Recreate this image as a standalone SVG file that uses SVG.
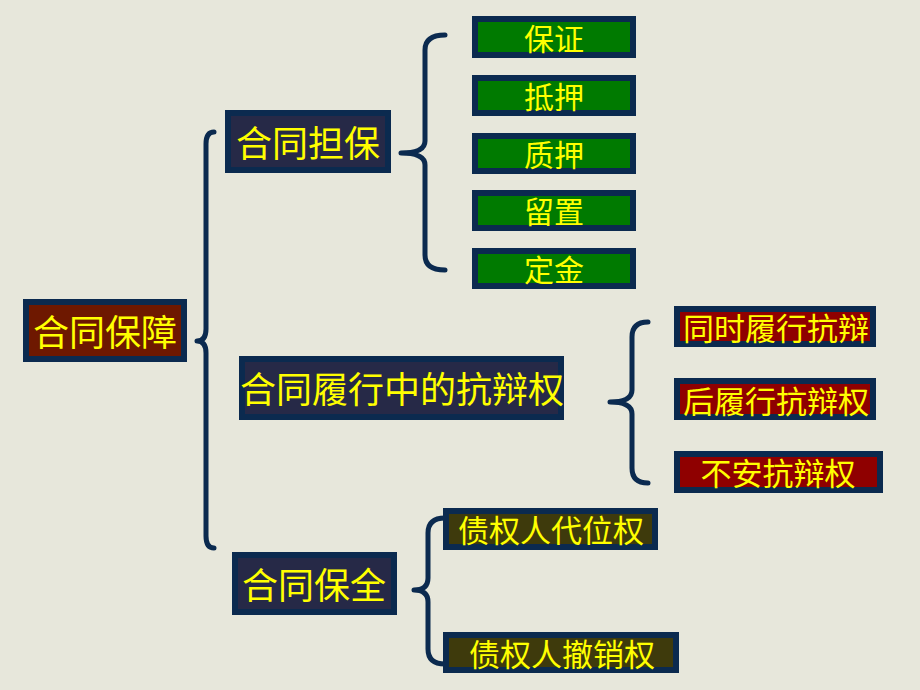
<svg xmlns="http://www.w3.org/2000/svg" width="920" height="690" viewBox="0 0 920 690">
<defs>
<style>
.bx{stroke:#0b2a4f;stroke-width:6}
.root{fill:#6e1800}
.sub{fill:#262947}
.grn{fill:#007a00}
.red{fill:#8f0000}
.olv{fill:#3e3a0c}
.t{fill:#ffff00;font-family:"Noto Sans CJK SC","Noto Sans CJK TC",sans-serif;text-anchor:middle;dominant-baseline:central}
.brace{fill:none;stroke:#0b2a4f;stroke-width:5;stroke-linecap:round;stroke-linejoin:round}
</style>
</defs>
<rect width="920" height="690" fill="#e7e7db"/>
<g id="connectors">
<path class="brace" d="M214,132 Q206,132 206,144 L206,329 Q206,341 197,341 Q206,341 206,353 L206,536 Q206,548 214,548"/>
<path class="brace" d="M445,35 Q425,35 425,50 L425,141 Q425,153 401,153 Q425,153 425,165 L425,255 Q425,270 445,270"/>
<path class="brace" d="M648,322 Q632,322 632,337 L632,390 Q632,402 610,402 Q632,402 632,414 L632,468 Q632,483 648,483"/>
<path class="brace" d="M445,518 Q428,518 428,533 L428,578 Q428,590 414,590 Q428,590 428,602 L428,649 Q428,664 445,664"/>
</g>
<g id="root"><rect class="bx root" x="26" y="302" width="158" height="57"/><text class="t" x="105" y="330" font-size="36">合同保障</text></g>
<g id="danbao"><rect class="bx sub" x="228" y="113" width="160" height="57"/><text class="t" x="308" y="141" font-size="36">合同担保</text></g>
<g id="kangbian"><rect class="bx sub" x="242" y="359" width="319" height="58"/><text class="t" x="402" y="387" font-size="36">合同履行中的抗辩权</text></g>
<g id="baoquan"><rect class="bx sub" x="235" y="555" width="159" height="57"/><text class="t" x="314" y="583" font-size="36">合同保全</text></g>
<g id="baozheng"><rect class="bx grn" x="475" y="19" width="158" height="36"/><text class="t" x="554" y="37" font-size="30">保证</text></g>
<g id="diya"><rect class="bx grn" x="475" y="78" width="158" height="35"/><text class="t" x="554" y="95" font-size="30">抵押</text></g>
<g id="zhiya"><rect class="bx grn" x="475" y="136" width="158" height="35"/><text class="t" x="554" y="153" font-size="30">质押</text></g>
<g id="liuzhi"><rect class="bx grn" x="475" y="193" width="158" height="35"/><text class="t" x="554" y="210" font-size="30">留置</text></g>
<g id="dingjin"><rect class="bx grn" x="475" y="251" width="158" height="35"/><text class="t" x="554" y="268" font-size="30">定金</text></g>
<g id="tongshi"><rect class="bx red" x="677" y="309" width="196" height="35"/><text class="t" x="776" y="326" font-size="31">同时履行抗辩</text></g>
<g id="houlu"><rect class="bx red" x="677" y="381" width="196" height="36"/><text class="t" x="776" y="399" font-size="31">后履行抗辩权</text></g>
<g id="buan"><rect class="bx red" x="677" y="454" width="203" height="36"/><text class="t" x="778" y="471" font-size="31">不安抗辩权</text></g>
<g id="daiwei"><rect class="bx olv" x="446" y="511" width="209" height="36"/><text class="t" x="551" y="528" font-size="31">债权人代位权</text></g>
<g id="chexiao"><rect class="bx olv" x="446" y="635" width="230" height="35"/><text class="t" x="562" y="652" font-size="31">债权人撤销权</text></g>
</svg>
